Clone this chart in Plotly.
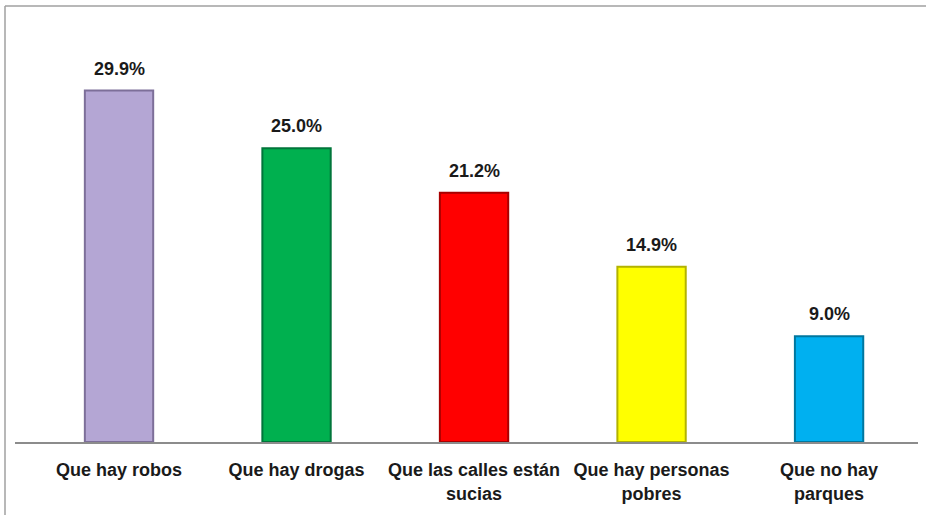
import plotly.graph_objects as go

categories = ["Que hay robos", "Que hay drogas", "Que las calles están<br>sucias",
              "Que hay personas<br>pobres", "Que no hay<br>parques"]
values = [29.9, 25.0, 21.2, 14.9, 9.0]
colors = ["#b4a6d4", "#00b04f", "#ff0000", "#ffff00", "#00b0f0"]
edge_colors = ["#7d6f99", "#00753a", "#a80000", "#b3b300", "#00779f"]

W, H = 926, 515
ml, mr, mt, mb = 15, 8, 40, 73
pw, ph = W - ml - mr, H - mt - mb
FONT = "Liberation Sans, Arial, sans-serif"

def px_x(p):
    return (p - ml) / pw

def px_y(p):
    return (H - mb - p) / ph

fig = go.Figure()
fig.add_trace(go.Bar(
    x=list(range(len(categories))), y=values,
    marker=dict(color=colors, line=dict(color=edge_colors, width=2)),
    width=0.385, showlegend=False, hoverinfo="skip",
))

for i, v in enumerate(values):
    fig.add_annotation(x=i, y=v, text=f"<b>{v:.1f}%</b>", showarrow=False,
                       yanchor="middle", yshift=22,
                       font=dict(family=FONT, size=18, color="#1a1a1a"))

fig.update_layout(
    width=W, height=H,
    margin=dict(l=ml, r=mr, t=mt, b=mb),
    paper_bgcolor="white", plot_bgcolor="white",
    font=dict(family=FONT, color="#1a1a1a"),
    xaxis=dict(range=[-0.586, 4.501], tickmode="array",
               tickvals=list(range(len(categories))),
               ticktext=[f"<b>{c.replace('<br>', '</b><br><b>')}</b>" for c in categories],
               tickfont=dict(size=18), showgrid=False, zeroline=False,
               showline=True, linecolor="#8c8c8c", linewidth=1.5, ticks="", ticklen=0,
               ticklabelstandoff=11),
    yaxis=dict(range=[0, 34.2], visible=False),
    shapes=[
        dict(type="line", xref="paper", yref="paper",
             x0=px_x(5), x1=px_x(930), y0=px_y(6), y1=px_y(6),
             line=dict(color="#a0a0a0", width=1.5)),
        dict(type="line", xref="paper", yref="paper",
             x0=px_x(5), x1=px_x(5), y0=px_y(6), y1=px_y(520),
             line=dict(color="#a0a0a0", width=1.5)),
    ],
)

fig.write_html("out.html", config={"displayModeBar": False},
               post_script="document.body.style.margin='0';")
